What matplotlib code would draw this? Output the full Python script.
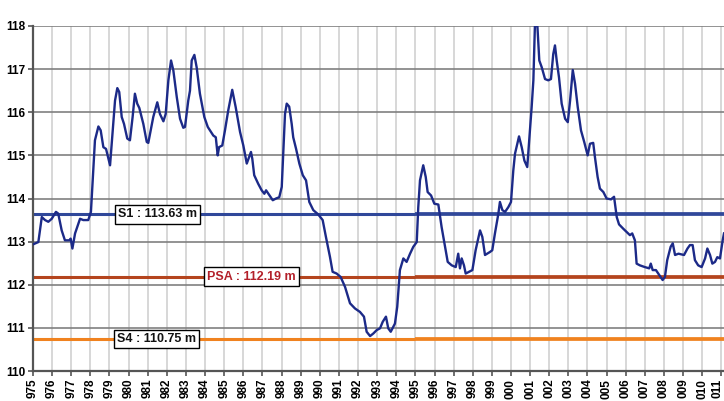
import matplotlib
matplotlib.use("Agg")
import matplotlib.pyplot as plt
from matplotlib.transforms import ScaledTranslation

# ---- data ----
years = [1975.02, 1975.28, 1975.46, 1975.63, 1975.80, 1975.98, 1976.20, 1976.32, 1976.50, 1976.67,
         1976.90, 1976.97, 1977.06, 1977.20, 1977.46, 1977.63, 1977.89, 1978.03, 1978.15, 1978.24,
         1978.42, 1978.54, 1978.68, 1978.82, 1979.03, 1979.17, 1979.29, 1979.41, 1979.51, 1979.64,
         1979.76, 1979.93, 1980.07, 1980.21, 1980.33, 1980.45, 1980.56, 1980.77, 1980.95, 1981.03,
         1981.29, 1981.50, 1981.64, 1981.82, 1981.94, 1982.08, 1982.22, 1982.34, 1982.52, 1982.69,
         1982.86, 1982.95, 1983.12, 1983.21, 1983.30, 1983.44, 1983.56, 1983.73, 1983.96, 1984.14,
         1984.31, 1984.43, 1984.56, 1984.66, 1984.73, 1984.90, 1985.04, 1985.21, 1985.42, 1985.60,
         1985.83, 1986.00, 1986.18, 1986.30, 1986.40, 1986.47, 1986.57, 1986.78, 1986.96, 1987.10,
         1987.19, 1987.31, 1987.54, 1987.71, 1987.88, 1988.01, 1988.09, 1988.18, 1988.27, 1988.40,
         1988.53, 1988.61, 1988.76, 1988.93, 1989.11, 1989.28, 1989.45, 1989.66, 1989.92, 1990.15,
         1990.32, 1990.53, 1990.67, 1990.88, 1991.09, 1991.32, 1991.58, 1991.84, 1992.10, 1992.31,
         1992.45, 1992.63, 1992.80, 1992.98, 1993.15, 1993.29, 1993.46, 1993.58, 1993.71, 1993.93,
         1994.05, 1994.19, 1994.37, 1994.54, 1994.72, 1994.89, 1995.07, 1995.15, 1995.24, 1995.41,
         1995.54, 1995.64, 1995.82, 1995.99, 1996.20, 1996.37, 1996.55, 1996.69, 1996.90, 1997.11,
         1997.24, 1997.33, 1997.42, 1997.54, 1997.63, 1997.80, 1997.98, 1998.15, 1998.38, 1998.50,
         1998.64, 1998.90, 1999.02, 1999.16, 1999.34, 1999.42, 1999.55, 1999.69, 1999.86, 2000.00,
         2000.12, 2000.21, 2000.42, 2000.56, 2000.70, 2000.85, 2000.96, 2001.08, 2001.17, 2001.25,
         2001.38, 2001.48, 2001.61, 2001.78, 2001.95, 2002.09, 2002.21, 2002.30, 2002.39, 2002.51,
         2002.65, 2002.83, 2002.97, 2003.09, 2003.23, 2003.35, 2003.49, 2003.66, 2003.83, 2004.01,
         2004.13, 2004.30, 2004.39, 2004.53, 2004.65, 2004.83, 2005.00, 2005.23, 2005.39, 2005.53,
         2005.65, 2005.87, 2006.22, 2006.34, 2006.48, 2006.57, 2006.74, 2007.00, 2007.23, 2007.31,
         2007.41, 2007.58, 2007.76, 2007.93, 2008.05, 2008.17, 2008.35, 2008.46, 2008.58, 2008.76,
         2009.05, 2009.23, 2009.36, 2009.50, 2009.62, 2009.79, 2009.97, 2010.15, 2010.27, 2010.41,
         2010.53, 2010.67, 2010.79, 2010.93, 2011.07, 2011.14]
levels = [112.94, 112.99, 113.57, 113.50, 113.46, 113.53, 113.69, 113.65, 113.26, 113.03,
          113.03, 113.07, 112.84, 113.19, 113.53, 113.50, 113.50, 113.69, 114.65, 115.35,
          115.67, 115.58, 115.19, 115.15, 114.77, 115.58, 116.27, 116.56, 116.47, 115.89,
          115.73, 115.39, 115.35, 115.89, 116.43, 116.20, 116.10, 115.73, 115.31, 115.29,
          115.89, 116.23, 115.96, 115.79, 115.96, 116.74, 117.20, 116.97, 116.35, 115.85,
          115.64, 115.66, 116.27, 116.50, 117.20, 117.33, 117.04, 116.43, 115.89, 115.66,
          115.54, 115.46, 115.42, 115.00, 115.19, 115.23, 115.58, 116.04, 116.52, 116.12,
          115.54, 115.23, 114.81, 114.96, 115.08, 114.92, 114.54, 114.34, 114.19, 114.11,
          114.19, 114.11, 113.96, 114.00, 114.03, 114.27, 115.04, 115.96, 116.20, 116.13,
          115.73, 115.42, 115.15, 114.81, 114.54, 114.42, 113.92, 113.73, 113.63, 113.50,
          113.11, 112.65, 112.30, 112.26, 112.18, 111.95, 111.57, 111.45, 111.37, 111.26,
          110.91, 110.81, 110.87, 110.95, 110.99, 111.14, 111.26, 110.99, 110.91, 111.10,
          111.49, 112.34, 112.61, 112.53, 112.72, 112.88, 112.99, 113.80, 114.42, 114.77,
          114.50, 114.15, 114.07, 113.88, 113.86, 113.34, 112.88, 112.53, 112.45, 112.41,
          112.72, 112.38, 112.61, 112.45, 112.26, 112.30, 112.34, 112.80, 113.26, 113.11,
          112.69, 112.76, 112.80, 113.19, 113.65, 113.92, 113.73, 113.69, 113.80, 113.92,
          114.65, 115.04, 115.44, 115.19, 114.88, 114.73, 115.39, 116.12, 116.74, 118.00,
          118.00, 117.20, 117.04, 116.77, 116.74, 116.77, 117.35, 117.55, 117.20, 116.81,
          116.20, 115.85, 115.77, 116.27, 116.98, 116.66, 116.12, 115.58, 115.31, 115.00,
          115.27, 115.29, 114.96, 114.50, 114.23, 114.15, 114.00, 113.98, 114.04, 113.57,
          113.40, 113.30, 113.15, 113.19, 113.03, 112.49, 112.45, 112.41, 112.38, 112.49,
          112.34, 112.34, 112.22, 112.11, 112.18, 112.57, 112.88, 112.96, 112.69, 112.72,
          112.69, 112.84, 112.92, 112.92, 112.57, 112.45, 112.41, 112.61, 112.84, 112.69,
          112.49, 112.53, 112.64, 112.61, 113.03, 113.19]

tick_years = list(range(1975, 2012))
tick_labels = [str(y)[1:] for y in tick_years]
y_ticks = [110, 111, 112, 113, 114, 115, 116, 117, 118]

threshold_names = ["S1", "PSA", "S4"]
threshold_values = [113.63, 112.19, 110.75]
threshold_colors = ["#30489a", "#b4441d", "#f0821f"]
label_colors = ["#111111", "#b3202a", "#111111"]
label_x = [1981.5, 1986.43, 1981.46]
split_year = 1995

plt.rcParams['font.family'] = ['Liberation Sans', 'DejaVu Sans']

fig = plt.figure(figsize=(7.24, 4.01), dpi=100)
ax = fig.add_axes([33 / 724, 30 / 401, (724 - 33) / 724, (371 - 26) / 401])

x_min, x_max = 1975, 1975 + (724 - 33) / 19.12
ax.set_xlim(x_min, x_max)
ax.set_ylim(110, 118)

# grid
for y in y_ticks:
    ax.axhline(y, color="#808080", lw=1.2, zorder=1)
for xv in tick_years:
    ax.axvline(xv, color="#cdcdcd", lw=1.1, zorder=0.5)

# thresholds
for name, val, col, lc, lx in zip(threshold_names, threshold_values, threshold_colors,
                                   label_colors, label_x):
    ax.plot([x_min, split_year], [val, val], color=col, lw=2.2, zorder=2,
            solid_capstyle='butt')
    ax.plot([split_year, x_max], [val, val], color=col, lw=2.7, zorder=2,
            solid_capstyle='butt')
    ax.text(lx, val, f"{name} : {val:.2f} m", ha="center", va="center",
            fontsize=9, fontweight="bold", color=lc, zorder=5,
            bbox=dict(boxstyle="square,pad=0.25", fc="white", ec="black", lw=1.0))

# data curve
ax.plot(years, levels, color="#1c2a88", lw=1.7, zorder=3, clip_on=True)

ax.set_xticks(tick_years)
ax.set_xticklabels(tick_labels, rotation=90, fontsize=8.5, fontweight="bold", va="top")
ax.set_yticks(y_ticks)
ax.set_yticklabels([str(v) for v in y_ticks], fontsize=8.5, fontweight="bold")
ax.tick_params(axis="both", direction="out", length=3.5, width=1.2, color="#555555", pad=2)

# keep the last x label inside the figure
last = ax.get_xticklabels()[-1]
last.set_transform(last.get_transform() + ScaledTranslation(-4 / 100, 0, fig.dpi_scale_trans))

for s in ["top", "right"]:
    ax.spines[s].set_visible(False)
for s in ["left", "bottom"]:
    ax.spines[s].set_color("#555555")
    ax.spines[s].set_linewidth(1.6)

fig.savefig("out.png", dpi=100)
